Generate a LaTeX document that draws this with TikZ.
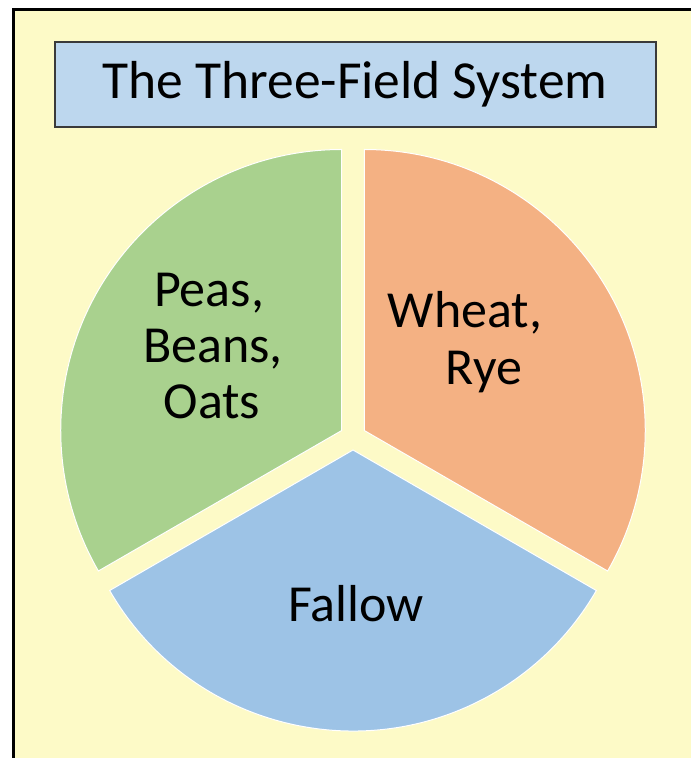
\documentclass[tikz,border=0pt]{standalone}
\usepackage{fontspec}
\setmainfont{Carlito}
\usetikzlibrary{calc}
\definecolor{bgyellow}{HTML}{FDFAC7}
\definecolor{titleblue}{HTML}{BDD7EE}
\definecolor{pgreen}{HTML}{A9D18E}
\definecolor{porange}{HTML}{F4B183}
\definecolor{pblue}{HTML}{9DC3E6}
\definecolor{boxedge}{HTML}{3A3A3A}
\tikzset{
  sector/.style={draw=white, line width=1pt},
  lbl/.style={anchor=base, inner sep=0pt, font=\fontsize{52}{58}\selectfont},
  ttl/.style={anchor=base, inner sep=0pt, font=\fontsize{53.5}{60}\selectfont},
}
\begin{document}
\begin{tikzpicture}[x=1pt,y=1pt]
\useasboundingbox (0,0) rectangle (691,758);
% page background and frame
\fill[white] (0,0) rectangle (691,758);
\fill[bgyellow] (13.5,0) rectangle (691,748.5);
\draw[line width=3pt] (13.5,0) -- (13.5,748.5) -- (691,748.5);
% title
\node[draw=boxedge, fill=titleblue, line width=1.3pt, minimum width=601pt, minimum height=85pt, inner sep=0pt] (titlebox) at (355.5,673.5) {};
\node[ttl] (title) at (355,659) {The Three-Field System};
% pie sectors
\coordinate (c) at (353,321);
\fill[pgreen, sector] ($(c)+(150:13)$) -- ++(90:281) arc[start angle=90, end angle=210, radius=281] -- cycle;
\fill[porange, sector] ($(c)+(30:13)$) -- ++(90:281) arc[start angle=90, end angle=-30, radius=281] -- cycle;
\fill[pblue, sector] ($(c)+(270:13)$) -- ++(210:281) arc[start angle=210, end angle=330, radius=281] -- cycle;
% labels
\node[lbl] (peas) at (209,451) {Peas,};
\node[lbl] (beans) at (213,395) {Beans,};
\node[lbl] (oats) at (212,339) {Oats};
\node[lbl] (wheat) at (465,430) {Wheat,};
\node[lbl] (rye) at (484,373) {Rye};
\node[lbl] (fallow) at (356,136) {Fallow};
\end{tikzpicture}
\end{document}
